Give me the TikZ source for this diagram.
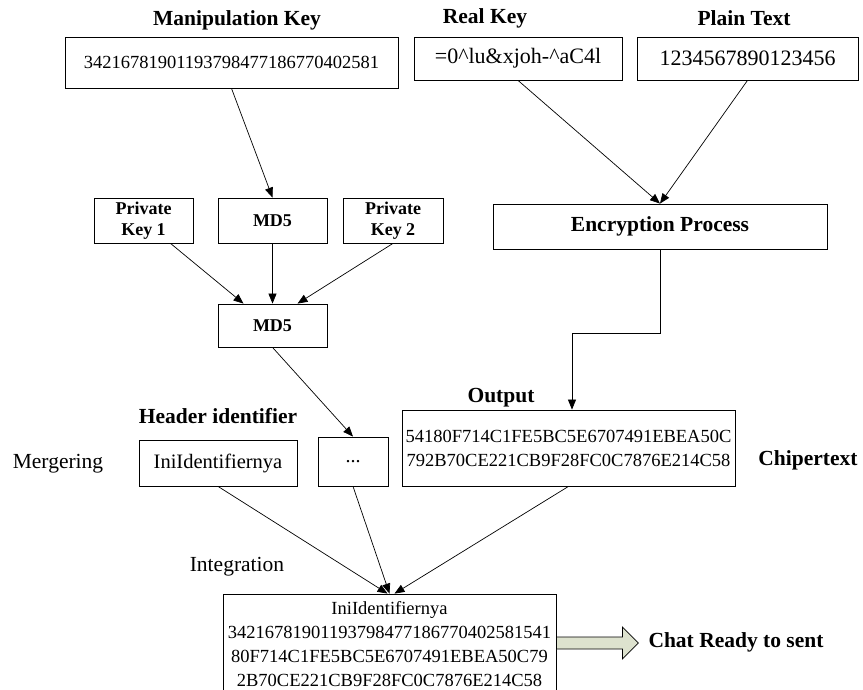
\documentclass[tikz,border=0pt]{standalone}
\usepackage{fontspec}
\setmainfont{Liberation Serif}
\usetikzlibrary{arrows.meta,calc}
\definecolor{arrowfill}{RGB}{221,226,206}
\begin{document}
\begin{tikzpicture}[x=1pt,y=-1pt,
  box/.style={draw, line width=0.8pt, inner sep=0pt, align=center},
  ttl/.style={font=\fontsize{21.5}{24}\selectfont\bfseries, inner sep=0pt},
  lbl/.style={font=\fontsize{21.5}{24}\selectfont, inner sep=0pt},
  bodytxt/.style={font=\fontsize{18.5}{24}\selectfont},
  bigtxt/.style={font=\fontsize{22}{24}\selectfont},
  smallbold/.style={font=\fontsize{18}{21}\selectfont\bfseries},
  arr/.style={-{Triangle[length=10pt,width=8pt]}, line width=0.7pt},
]
\useasboundingbox (0,0) rectangle (863,690);

% titles
\node[ttl] (tmanip) at (237,20) {Manipulation Key};
\node[ttl] (treal) at (485,18) {Real Key};
\node[ttl] (tplain) at (744,18) {Plain Text};
\node[ttl] (tout) at (501,398) {Output};
\node[ttl] (thead) at (218,416) {Header identifier};
\node[ttl] (tchip) at (808,460) {Chipertext};
\node[ttl] (tchat) at (736,642) {Chat Ready to sent};
\node[lbl] (tmerg) at (58,464) {Mergering};
\node[lbl] (tint) at (237,567) {Integration};

% top row
\node[box, bodytxt, minimum width=333, minimum height=51] (manip) at (231.5,62.5) {34216781901193798477186770402581};
\node[box, bigtxt, minimum width=208, minimum height=43] (realkey) at (518,58.5) {=0\^{}lu\&xjoh-\^{}aC4l};
\node[box, bigtxt, minimum width=221, minimum height=43] (plain) at (747.5,58.5) {1234567890123456};

% middle row
\node[box, smallbold, minimum width=99, minimum height=45] (pk1) at (143.5,220.5) {Private\\Key 1};
\node[box, smallbold, minimum width=109, minimum height=45] (md5a) at (272.5,220.5) {MD5};
\node[box, smallbold, minimum width=100, minimum height=45] (pk2) at (393,220.5) {Private\\Key 2};
\node[box, smallbold, minimum width=109, minimum height=43] (md5b) at (272.5,325.5) {MD5};
\node[box, ttl, minimum width=334, minimum height=45] (enc) at (660,226.5) {Encryption Process};

% lower row
\node[box, bodytxt, minimum width=333, minimum height=76] (out) at (568.5,448) {54180F714C1FE5BC5E6707491EBEA50C\\792B70CE221CB9F28FC0C7876E214C58};
\node[box, font=\fontsize{20.5}{24}\selectfont, minimum width=158, minimum height=46] (ini) at (218,463) {IniIdentifiernya};
\node[box, font=\fontsize{20}{24}\selectfont, minimum width=70, minimum height=49] (dots) at (353,461.5) {...};

% final box
\node[box, bodytxt, minimum width=333, minimum height=100] (final) at (389.5,644) {IniIdentifiernya\\34216781901193798477186770402581541\\80F714C1FE5BC5E6707491EBEA50C79\\2B70CE221CB9F28FC0C7876E214C58};

% connectors
\draw[arr] (manip.south) -- (md5a.north);
\draw[arr] (realkey.south) -- (enc.north);
\draw[arr] (plain.south) -- (enc.north);
\draw[arr] ($(pk1.south)+(27,0)$) -- ($(md5b.north)+(-29,0)$);
\draw[arr] (md5a.south) -- (md5b.north);
\draw[arr] (pk2.south) -- ($(md5b.north)+(25,0)$);
\draw[arr] (md5b.south) -- (dots.north);
\coordinate (bend) at ($(enc.south)+(0,84)$);
\draw[arr] (enc.south) -- (bend) -| ($(out.north)+(3.5,0)$);
\draw[arr] (ini.south) -- ($(final.north)+(-2,0)$);
\draw[arr] (dots.south) -- ($(final.north)+(0,0)$);
\draw[arr] (out.south) -- ($(final.north)+(5,0)$);

% block arrow
\coordinate (ba) at ($(final.east)+(0,-1)$);
\draw[line width=0.7pt, fill=arrowfill]
  (ba) ++(0,-6) -- ++(66,0) -- ++(0,-10) -- ++(16,16) -- ++(-16,16) -- ++(0,-10) -- ++(-66,0) -- cycle;
\end{tikzpicture}
\end{document}
